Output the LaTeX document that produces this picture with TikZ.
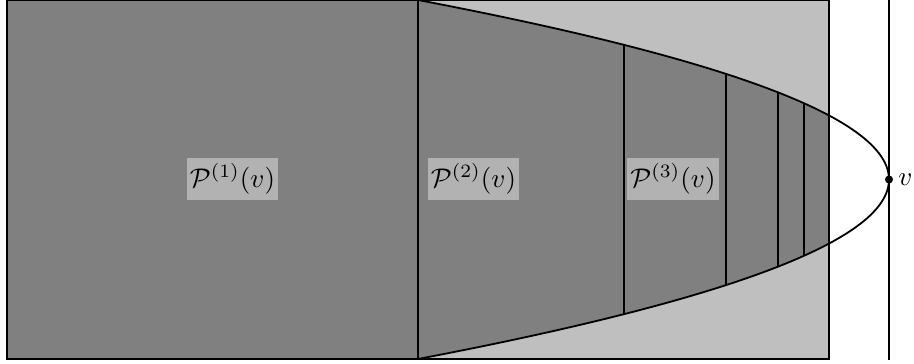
\documentclass[tikz,border=0pt]{standalone}
\usepackage{amsmath}
\begin{document}
\begin{tikzpicture}[x=1pt,y=-1pt,line width=1.8pt,
  lbl/.style={fill=black!30,inner xsep=1.2pt,inner ysep=2.2pt,scale=2.7,transform shape},
  darkfill/.style={fill=black!50},
  lightfill/.style={fill=black!25}]
\useasboundingbox (0,0) rectangle (914,364);
\def\parab{(418,0) .. controls (732,59.83) and (889,119.67) .. (889,179.5) .. controls (889,239.33) and (732,299.17) .. (418,359)}
\fill[darkfill] (7,0) rectangle (418,359);
\fill[lightfill] (418,0) rectangle (829,359);
\begin{scope}
  \clip (418,0) rectangle (829,359);
  \fill[darkfill] \parab -- cycle;
\end{scope}
\begin{scope}
  \clip \parab -- cycle;
  \foreach \xx in {624,726,778,804} \draw (\xx,0) -- (\xx,359);
\end{scope}
\draw (7,0) rectangle (418,359);
\draw (418,0) rectangle (829,359);
\draw \parab;
\coordinate (vt) at (889,0);
\coordinate (vb) at (889,360);
\draw (vt) -- (vb);
\node[circle,fill=black,inner sep=0pt,minimum size=8pt] (v) at (889,179.5) {};
\node[anchor=west,inner sep=0.8pt,scale=2.7] (vl) at (v.east) {$v$};
\node[lbl] (p1) at (232.5,179) {$\mathcal{P}^{(1)}(v)$};
\node[lbl] (p2) at (473.5,179) {$\mathcal{P}^{(2)}(v)$};
\node[lbl] (p3) at (673,179) {$\mathcal{P}^{(3)}(v)$};
\end{tikzpicture}
\end{document}
